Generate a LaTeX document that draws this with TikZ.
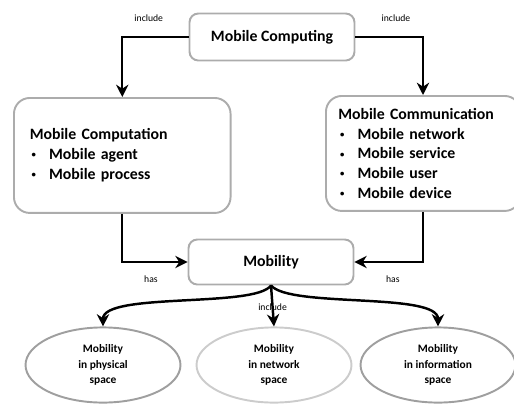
\documentclass[tikz,border=0pt]{standalone}
\usepackage{fontspec}
\setmainfont{Carlito}
\usetikzlibrary{shapes.geometric,arrows.meta}

\newcommand{\itm}[1]{\makebox[11pt][l]{\hspace{1pt}\raisebox{0.25ex}{\scalebox{0.55}{\textbullet}}}#1}

\begin{document}
\begin{tikzpicture}[x=0.02cm, y=-0.02cm,
    box/.style={draw=gray!65, line width=1.1pt, rounded corners=5pt, font=\bfseries\fontsize{9}{11.3}\selectfont},
    bigbox/.style={box, rounded corners=9pt, align=left, anchor=north west},
    oval/.style={ellipse, draw=gray!75, line width=1.1pt, minimum width=3.1cm, minimum height=1.48cm,
        align=center, font=\bfseries\fontsize{6.5}{9}\selectfont},
    arr/.style={-{Stealth[length=7pt,width=7pt]}, line width=1.4pt},
    lbl/.style={font=\fontsize{5.5}{6}\selectfont}]
    \useasboundingbox (0,0) rectangle (514,403);

    % Top and middle boxes
    \node[box, minimum width=3.3cm, minimum height=0.94cm] (comp) at (272,37) {Mobile Computing};
    \node[box, minimum width=3.3cm, minimum height=0.9cm] (mob) at (271,262) {Mobility};

    % Side boxes
    \node[bigbox, minimum width=4.18cm, minimum height=2.3cm, text width=3.7cm, inner xsep=9pt] (cmpt) at (13,97)
        {Mobile Computation\\ \itm{Mobile agent}\\ \itm{Mobile process}};
    \node[bigbox, minimum width=3.76cm, minimum height=2.3cm, text width=3.4cm, inner xsep=7pt] (comm) at (325,95)
        {Mobile Communication\\ \itm{Mobile network}\\ \itm{Mobile service}\\ \itm{Mobile user}\\ \itm{Mobile device}};

    % Ellipses
    \node[oval] (phys) at (103,365) {Mobility\\ in physical\\ space};
    \node[oval, draw=gray!40] (net) at (274,365) {Mobility\\ in network\\ space};
    \node[oval] (info) at (438,365) {Mobility\\ in information\\ space};

    % include arrows
    \draw[arr] (comp.west) -| node[lbl, pos=0.3, above=5pt] {include} (cmpt.north);
    \draw[arr] (comp.east) -| node[lbl, pos=0.3, above=5pt] {include} (comm.north -| 423,0);

    % has arrows
    \draw[arr] (cmpt.south) |- node[lbl, pos=0.72, below=4pt] {has} (mob.west);
    \draw[arr] (comm.south -| 423,0) |- node[lbl, pos=0.72, below=4pt] {has} (mob.east);

    % Mobility kinds
    \draw[arr] (mob.south) .. controls (255,308) and (103,292) .. (phys.north);
    \draw[arr] (mob.south) -- node[lbl, pos=0.52] {include} (net.north);
    \draw[arr] (mob.south) .. controls (290,308) and (438,292) .. (info.north);
\end{tikzpicture}
\end{document}
